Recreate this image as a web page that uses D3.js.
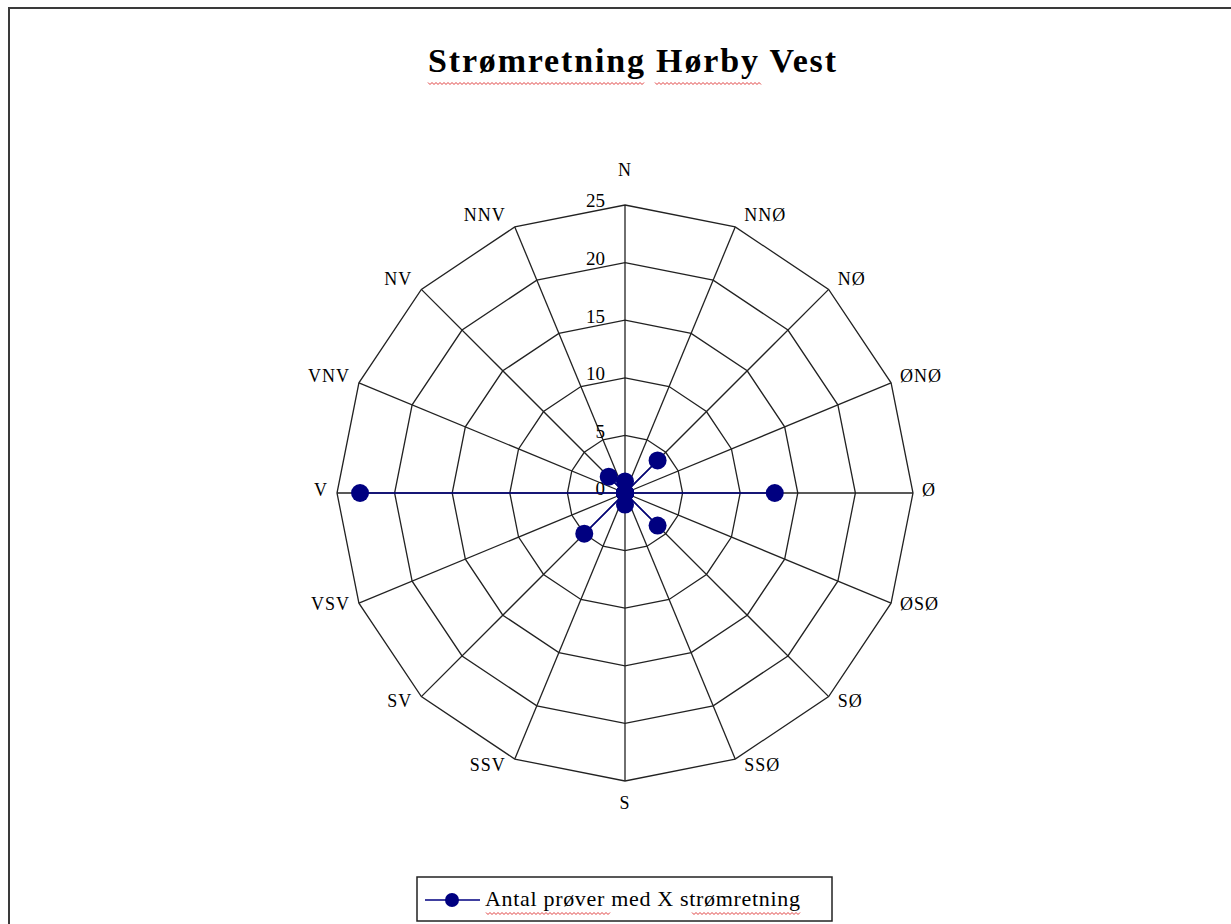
<!DOCTYPE html>
<html>
<head>
<meta charset="utf-8">
<script src="https://cdn.jsdelivr.net/npm/d3@7"></script>
<style>
  body { margin: 0; background: #fff; }
  svg { display: block; }
</style>
</head>
<body>
<div id="chart"></div>
<script>
// Chart data
const directions = ["N", "NNØ", "NØ", "ØNØ", "Ø", "ØSØ", "SØ", "SSØ",
                    "S", "SSV", "SV", "VSV", "V", "VNV", "NV", "NNV"];
const counts = [1, 0, 4, 0, 13, 0, 4, 0, 1, 0, 5, 0, 23, 0, 2, 0];
const ringTicks = [0, 5, 10, 15, 20, 25];
const seriesName = "Antal prøver med X strømretning";
const chartTitle = "Strømretning Hørby Vest";

const width = 1231, height = 924;
const cx = 625, cy = 493, outerR = 288;
const serif = "'Liberation Serif', 'Times New Roman', serif";
const navy = "#000080";

const svg = d3.select("#chart").append("svg")
    .attr("width", width)
    .attr("height", height);

// Outer frame (cut off on right and bottom)
svg.append("rect")
    .attr("x", 9).attr("y", 8)
    .attr("width", width + 20).attr("height", height + 20)
    .attr("fill", "none")
    .attr("stroke", "#3a3a3a")
    .attr("stroke-width", 2);

// Title
svg.append("text")
    .attr("x", 632).attr("y", 72)
    .attr("text-anchor", "middle")
    .attr("font-family", serif)
    .attr("font-weight", "bold")
    .attr("font-size", 34)
    .attr("textLength", 408)
    .attr("lengthAdjust", "spacing")
    .text(chartTitle);

// Spell-check squiggles
function squiggle(x0, x1, y) {
    const pts = [];
    for (let x = x0, i = 0; x <= x1; x += 2, i++) pts.push([x, y + (i % 2 ? 1.5 : -0.5)]);
    svg.append("path")
        .attr("d", d3.line()(pts))
        .attr("fill", "none")
        .attr("stroke", "#e04040")
        .attr("stroke-width", 1);
}
squiggle(428, 645, 83);
squiggle(655, 762, 83);

// Scales
const angle = d3.scaleLinear()
    .domain([0, directions.length])
    .range([0, 2 * Math.PI]);
const rScale = d3.scaleLinear()
    .domain([0, 25])
    .range([0, outerR]);

const pt = (i, v) => {
    const a = angle(i);
    return [cx + rScale(v) * Math.sin(a), cy - rScale(v) * Math.cos(a)];
};

const grid = svg.append("g");

// Rings
ringTicks.filter(t => t > 0).forEach(t => {
    const poly = directions.map((d, i) => pt(i, t));
    grid.append("path")
        .attr("d", d3.line().curve(d3.curveLinearClosed)(poly))
        .attr("fill", "none")
        .attr("stroke", "#222")
        .attr("stroke-width", 1.3);
});

// Spokes
directions.forEach((d, i) => {
    const [x, y] = pt(i, 25);
    grid.append("line")
        .attr("x1", cx).attr("y1", cy)
        .attr("x2", x).attr("y2", y)
        .attr("stroke", "#222")
        .attr("stroke-width", 1.3);
});

// Ring tick labels
ringTicks.forEach(t => {
    svg.append("text")
        .attr("x", cx - 20)
        .attr("y", cy - rScale(t) - 2)
        .attr("text-anchor", "end")
        .attr("dominant-baseline", "middle")
        .attr("font-family", serif)
        .attr("font-size", 19)
        .text(t);
});

// Direction labels, placed beside the outer vertex
directions.forEach((d, i) => {
    const a = angle(i);
    const s = Math.sin(a), c = Math.cos(a);
    const [vx, vy] = pt(i, 25);
    let x = vx, y = vy - 10 * c - 1, anchor = "middle";
    if (s > 0.01) { x = vx + 9; anchor = "start"; }
    else if (s < -0.01) { x = vx - 9; anchor = "end"; }
    else y = c > 0 ? vy - 33 : vy + 24;
    svg.append("text")
        .attr("x", x)
        .attr("y", y)
        .attr("text-anchor", anchor)
        .attr("dominant-baseline", "middle")
        .attr("font-family", serif)
        .attr("font-size", 18)
        .attr("letter-spacing", 1)
        .text(d);
});

// Series line
const linePts = counts.map((v, i) => pt(i, v));
svg.append("path")
    .attr("d", d3.line().curve(d3.curveLinearClosed)(linePts))
    .attr("fill", "none")
    .attr("stroke", navy)
    .attr("stroke-width", 1.5);

// Markers
svg.selectAll(".marker")
    .data(counts)
    .join("circle")
    .attr("class", "marker")
    .attr("cx", (v, i) => pt(i, v)[0])
    .attr("cy", (v, i) => pt(i, v)[1])
    .attr("r", 9)
    .attr("fill", navy);

// Legend
const legend = svg.append("g");
legend.append("rect")
    .attr("x", 417).attr("y", 877)
    .attr("width", 415).attr("height", 44)
    .attr("fill", "#fff")
    .attr("stroke", "#222")
    .attr("stroke-width", 1.5);
legend.append("line")
    .attr("x1", 425).attr("x2", 480)
    .attr("y1", 900).attr("y2", 900)
    .attr("stroke", navy)
    .attr("stroke-width", 1.5);
legend.append("circle")
    .attr("cx", 452).attr("cy", 900)
    .attr("r", 7)
    .attr("fill", navy);
legend.append("text")
    .attr("x", 485).attr("y", 906)
    .attr("font-family", serif)
    .attr("font-size", 22)
    .attr("textLength", 315)
    .attr("lengthAdjust", "spacing")
    .text(seriesName);
squiggle(486, 610, 913);
squiggle(692, 800, 913);
</script>
</body>
</html>
